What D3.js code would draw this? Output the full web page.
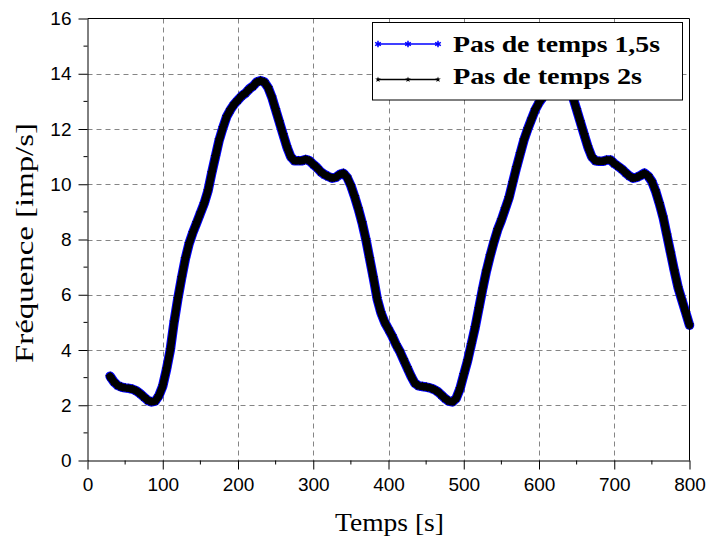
<!DOCTYPE html>
<html><head><meta charset="utf-8">
<script src="https://cdn.jsdelivr.net/npm/d3@7"></script>
<style>html,body{margin:0;padding:0;background:#fff;} svg{display:block}</style>
</head><body>
<svg id="c" width="710" height="543"></svg>
<script>
// ---------- data ----------
const xTicks = [0, 100, 200, 300, 400, 500, 600, 700, 800];
const yTicks = [0, 2, 4, 6, 8, 10, 12, 14, 16];
const xMinor = [50, 150, 250, 350, 450, 550, 650, 750];
const yMinor = [1, 3, 5, 7, 9, 11, 13, 15];
const seriesNames = ["Pas de temps 1,5s", "Pas de temps 2s"];
const xTitle = "Temps [s]";
const yTitle = "Fréquence [imp/s]";
// readings every 5 s, from t = 30 s to t = 800 s
const tStart = 30, tStep = 5;
const freqStep15 = [
 3.05, 2.85, 2.72, 2.66, 2.63, 2.61, 2.58, 2.52, 2.42, 2.30,
 2.18, 2.12, 2.15, 2.35, 2.70, 3.30, 4.00, 5.00, 5.85, 6.60,
 7.30, 7.85, 8.25, 8.60, 8.95, 9.30, 9.75, 10.40, 11.00, 11.60,
 12.05, 12.45, 12.70, 12.90, 13.05, 13.20, 13.30, 13.45, 13.55, 13.70,
 13.75, 13.70, 13.50, 13.15, 12.70, 12.25, 11.80, 11.35, 11.00, 10.85,
 10.85, 10.85, 10.90, 10.85, 10.72, 10.60, 10.45, 10.35, 10.28, 10.22,
 10.25, 10.35, 10.40, 10.25, 9.95, 9.55, 9.10, 8.60, 8.00, 7.30,
 6.60, 5.85, 5.35, 5.00, 4.75, 4.50, 4.20, 3.95, 3.65, 3.35,
 3.05, 2.80, 2.70, 2.68, 2.66, 2.63, 2.58, 2.50, 2.38, 2.25,
 2.15, 2.12, 2.25, 2.60, 3.10, 3.60, 4.20, 4.80, 5.50, 6.20,
 6.85, 7.40, 7.90, 8.35, 8.70, 9.10, 9.50, 10.05, 10.60, 11.10,
 11.60, 12.00, 12.35, 12.70, 12.95, 13.15, 13.30, 13.45, 13.55, 13.70,
 13.75, 13.70, 13.50, 13.15, 12.70, 12.25, 11.80, 11.35, 11.00, 10.85,
 10.83, 10.83, 10.88, 10.88, 10.75, 10.65, 10.55, 10.42, 10.30, 10.22,
 10.25, 10.32, 10.40, 10.30, 10.10, 9.75, 9.30, 8.80, 8.15, 7.50,
 6.85, 6.25, 5.80, 5.35, 4.90
];
const freqStep2 = [
 3.04, 2.85, 2.72, 2.66, 2.63, 2.61, 2.58, 2.52, 2.42, 2.30,
 2.18, 2.12, 2.15, 2.35, 2.70, 3.30, 4.00, 5.00, 5.85, 6.60,
 7.30, 7.85, 8.25, 8.60, 8.95, 9.30, 9.75, 10.40, 11.00, 11.60,
 12.05, 12.45, 12.70, 12.90, 13.05, 13.20, 13.30, 13.45, 13.55, 13.70,
 13.75, 13.70, 13.50, 13.15, 12.70, 12.25, 11.80, 11.35, 11.00, 10.85,
 10.85, 10.85, 10.90, 10.85, 10.72, 10.60, 10.45, 10.35, 10.28, 10.22,
 10.25, 10.35, 10.40, 10.25, 9.95, 9.55, 9.10, 8.60, 8.00, 7.30,
 6.60, 5.85, 5.35, 5.00, 4.75, 4.50, 4.20, 3.95, 3.65, 3.35,
 3.05, 2.80, 2.70, 2.68, 2.66, 2.63, 2.58, 2.50, 2.38, 2.25,
 2.15, 2.12, 2.25, 2.60, 3.10, 3.60, 4.20, 4.80, 5.50, 6.20,
 6.85, 7.40, 7.90, 8.35, 8.70, 9.10, 9.50, 10.05, 10.60, 11.10,
 11.60, 12.00, 12.35, 12.70, 12.95, 13.15, 13.30, 13.45, 13.55, 13.70,
 13.75, 13.70, 13.50, 13.15, 12.70, 12.25, 11.80, 11.35, 11.00, 10.85,
 10.83, 10.83, 10.88, 10.88, 10.75, 10.65, 10.55, 10.42, 10.30, 10.22,
 10.25, 10.32, 10.40, 10.30, 10.10, 9.75, 9.30, 8.80, 8.15, 7.50,
 6.85, 6.25, 5.80, 5.35, 4.90
];

// ---------- chart ----------
const svg = d3.select("#c");
const x = d3.scaleLinear().domain([0, 800]).range([87.5, 689.5]);
const y = d3.scaleLinear().domain([0, 16]).range([460.5, 18.5]);
const serif = "'Liberation Serif', 'DejaVu Serif', serif";
const sans = "'Liberation Sans', Arial, sans-serif";

// grid
const grid = svg.append("g").attr("stroke", "#858585").attr("stroke-width", 1)
  .attr("stroke-dasharray", "5,4");
grid.selectAll("line.v").data(xTicks.slice(1, -1)).join("line")
  .attr("x1", d => Math.round(x(d)) + 0.5).attr("x2", d => Math.round(x(d)) + 0.5)
  .attr("y1", y(16)).attr("y2", y(0));
grid.selectAll("line.h").data(yTicks.slice(1, -1)).join("line")
  .attr("y1", d => Math.round(y(d)) + 0.5).attr("y2", d => Math.round(y(d)) + 0.5)
  .attr("x1", x(0)).attr("x2", x(800));

// series
const pts15 = freqStep15.map((v, i) => [tStart + i * tStep, v]);
const pts2 = freqStep2.map((v, i) => [tStart + i * tStep, v]);
const line = d3.line().x(d => x(d[0])).y(d => y(d[1]));

const gBlue = svg.append("g");
gBlue.append("path").datum(pts15).attr("d", line).attr("fill", "none")
  .attr("stroke", "#0000ff").attr("stroke-width", 9.5)
  .attr("stroke-linejoin", "round").attr("stroke-linecap", "round");
const astBig = d3.symbol(d3.symbolAsterisk, 40);
gBlue.selectAll("path.m").data(pts15).join("path")
  .attr("transform", d => `translate(${x(d[0])},${y(d[1])})`)
  .attr("d", astBig).attr("fill", "none").attr("stroke", "#1010ff").attr("stroke-width", 1.2);

const gBlack = svg.append("g");
gBlack.append("path").datum(pts2).attr("d", line).attr("fill", "none")
  .attr("stroke", "#000").attr("stroke-width", 7.5)
  .attr("stroke-linejoin", "round").attr("stroke-linecap", "round");
gBlack.selectAll("path.m").data(pts2).join("path")
  .attr("transform", d => `translate(${x(d[0])},${y(d[1])})`)
  .attr("d", d3.symbol(d3.symbolStar, 30)).attr("fill", "#000");

// frame (top, right)
svg.append("path")
  .attr("d", `M${x(0)},${y(16)}H${x(800)}V${y(0)}`)
  .attr("fill", "none").attr("stroke", "#000").attr("stroke-width", 1);

// x axis
const gx = svg.append("g").attr("transform", `translate(0,${y(0)})`)
  .call(d3.axisBottom(x).tickValues(xTicks).tickSize(9).tickPadding(8).tickSizeOuter(0));
gx.selectAll("text").attr("font-family", sans).attr("font-size", 19).attr("fill", "#000");
gx.selectAll("line").attr("stroke", "#000");
gx.select(".domain").attr("stroke", "#000");
svg.append("g").selectAll("line").data(xMinor).join("line")
  .attr("x1", d => x(d)).attr("x2", d => x(d)).attr("y1", y(0)).attr("y2", y(0) + 4)
  .attr("stroke", "#000");

// y axis
const gy = svg.append("g").attr("transform", `translate(${x(0)},0)`)
  .call(d3.axisLeft(y).tickValues(yTicks).tickSize(9).tickPadding(7).tickSizeOuter(0));
gy.selectAll("text").attr("font-family", sans).attr("font-size", 19).attr("fill", "#000");
gy.selectAll("line").attr("stroke", "#000");
gy.select(".domain").attr("stroke", "#000");
svg.append("g").selectAll("line").data(yMinor).join("line")
  .attr("y1", d => y(d)).attr("y2", d => y(d)).attr("x1", x(0) - 4).attr("x2", x(0))
  .attr("stroke", "#000");

// axis titles
svg.append("text").text(xTitle)
  .attr("x", 335).attr("y", 531)
  .attr("font-family", serif).attr("font-size", 25)
  .attr("textLength", 109).attr("lengthAdjust", "spacingAndGlyphs");
svg.append("text").text(yTitle)
  .attr("transform", "translate(33,363) rotate(-90)")
  .attr("font-family", serif).attr("font-size", 25)
  .attr("textLength", 240).attr("lengthAdjust", "spacingAndGlyphs");

// legend
const lg = svg.append("g");
lg.append("rect").attr("x", 372.5).attr("y", 22.5).attr("width", 310).attr("height", 77.5)
  .attr("fill", "#fff").attr("stroke", "#000").attr("stroke-width", 1);
const rows = [
  {name: seriesNames[0], yl: 44, yb: 51.5, color: "#0000ff", w: 207, sym: d3.symbol(d3.symbolAsterisk, 30), stroke: true},
  {name: seriesNames[1], yl: 79.5, yb: 84, color: "#000", w: 189, sym: d3.symbol(d3.symbolStar, 10), stroke: false}
];
rows.forEach(r => {
  lg.append("line").attr("x1", 377).attr("x2", 438).attr("y1", r.yl).attr("y2", r.yl)
    .attr("stroke", r.color).attr("stroke-width", 1.3);
  [378, 408, 438].forEach(mx => {
    const p = lg.append("path").attr("transform", `translate(${mx},${r.yl})`).attr("d", r.sym);
    if (r.stroke) p.attr("fill", "none").attr("stroke", r.color).attr("stroke-width", 1.5);
    else p.attr("fill", r.color);
  });
  lg.append("text").text(r.name).attr("x", 453).attr("y", r.yb)
    .attr("font-family", serif).attr("font-weight", "bold").attr("font-size", 24)
    .attr("textLength", r.w).attr("lengthAdjust", "spacingAndGlyphs");
});
</script>
</body></html>
